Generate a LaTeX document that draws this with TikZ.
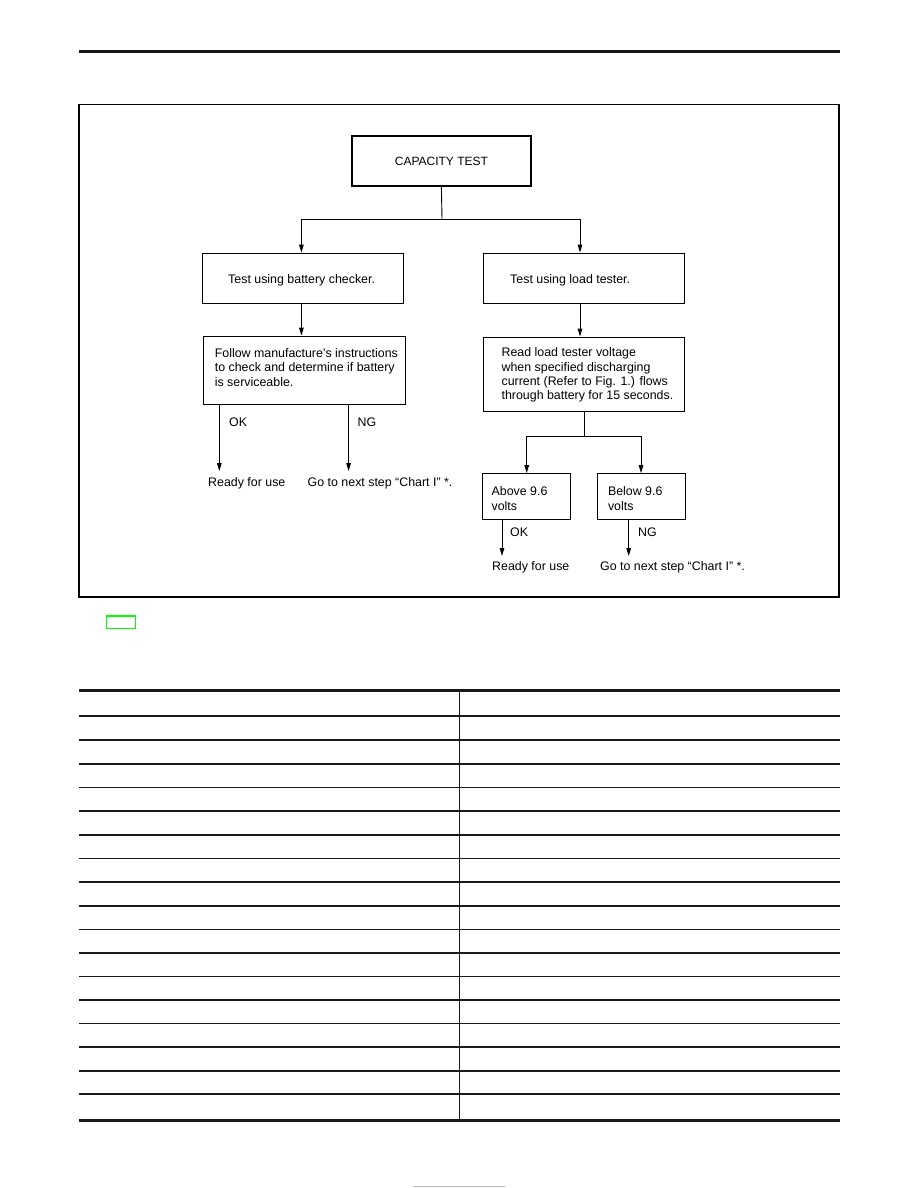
\documentclass[tikz,border=0pt]{standalone}
\usepackage{fontspec}
\setmainfont{Liberation Sans}
\usetikzlibrary{arrows.meta,calc}
\definecolor{pagegreen}{HTML}{00FF00}
\definecolor{footgray}{HTML}{BBBBBB}
\tikzset{
  boxstyle/.style={draw=black, line width=0.9pt, inner sep=0pt},
  txt/.style={inner sep=0pt, anchor=base west, font={\fontsize{12.4}{14.3}\selectfont}, align=left},
  arr/.style={draw=black, line width=0.9pt, -{Triangle[length=8pt,width=4.6pt]}},
  ln/.style={draw=black, line width=0.9pt},
  thinrule/.style={draw=black!90, line width=1.3pt},
  thickrule/.style={draw=black!90, line width=3pt},
}
\begin{document}
\begin{tikzpicture}[x=1pt,y=-1pt]
\useasboundingbox (0,0) rectangle (918,1188);
% header rule
\draw[thickrule, line width=3.5pt] (79,51.3) -- (840,51.3);
% frame
\draw[black, line width=1.2pt] (79,104.5) rectangle (839,597);
% boxes
\node[boxstyle, line width=2pt, minimum width=179pt, minimum height=50pt,
      font={\fontsize{12}{14.3}\selectfont}] (cap) at (441.4,161) {CAPACITY TEST};
\node[boxstyle, minimum width=201.6pt, minimum height=50pt] (b1) at (302.8,278) {};
\node[boxstyle, minimum width=201.6pt, minimum height=50pt] (b2) at (583.8,278) {};
\node[boxstyle, minimum width=201.5pt, minimum height=68pt] (b3) at (304.25,370) {};
\node[boxstyle, minimum width=201pt, minimum height=74pt] (b4) at (583.5,374) {};
\node[boxstyle, minimum width=88pt, minimum height=45.5pt] (b5) at (526.7,496.25) {};
\node[boxstyle, minimum width=88pt, minimum height=45.5pt] (b6) at (641,496.25) {};
% texts (multi-line nodes: base anchor is the last line's baseline)
\node[txt] (t1) at (228,283) {Test using battery checker.};
\node[txt] (t2) at (510,283) {Test using load tester.};
\node[txt] (t3) at (214.6,386.1) {Follow manufacture's instructions\\to check and determine if battery\\is serviceable.};
\node[txt] (t4) at (501.4,399.6) {Read load tester voltage\\when specified discharging\\current (Refer to Fig. 1.) flows\\through battery for 15 seconds.};
\node[txt] (t5) at (491.4,510.2) {Above 9.6\\volts};
\node[txt] (t6) at (607.8,510.2) {Below 9.6\\volts};
\node[txt] (okl) at (229,426) {OK};
\node[txt] (ngl) at (357.5,426) {NG};
\node[txt] (rdl) at (208,486) {Ready for use};
\node[txt] (gol) at (307.5,486) {Go to next step “Chart I” *.};
\node[txt] (okr) at (510,536) {OK};
\node[txt] (ngr) at (638,536) {NG};
\node[txt] (rdr) at (492,570) {Ready for use};
\node[txt] (gor) at (600,570) {Go to next step “Chart I” *.};
% connectors
\coordinate (j1) at (442,219);
\draw[ln] (cap.south) -- (j1);
\draw[arr] (j1) -| ([xshift=-1.4pt]b1.north);
\draw[arr] (j1) -| ([xshift=-3.8pt]b2.north);
\draw[arr] ([xshift=-1.4pt]b1.south) -- ([xshift=-1.4pt]b1.south |- b3.north);
\draw[arr] ([xshift=-3.8pt]b2.south) -- ([xshift=-3.8pt]b2.south |- b4.north);
\coordinate (e1) at (219.3,471);
\coordinate (e2) at (348.6,471);
\draw[arr] (e1 |- b3.south) -- (e1);
\draw[arr] (e2 |- b3.south) -- (e2);
\coordinate (j2) at (584,436);
\draw[ln] (j2 |- b4.south) -- (j2);
\draw[arr] (j2) -| (b5.north);
\draw[arr] (j2) -| (b6.north);
\coordinate (e3) at (502,556);
\coordinate (e4) at (628.7,556);
\draw[arr] (e3 |- b5.south) -- (e3);
\draw[arr] (e4 |- b6.south) -- (e4);
% green marker
\draw[pagegreen, line width=1.5pt] (106.3,616) rectangle (135.7,628.5);
% table
\draw[thickrule] (79,690.5) -- (840,690.5);
\foreach \yy in {716,740,764,787.5,811,835,858.5,882,906,929.5,953,976.5,1000,1023.5,1047,1071,1094}{
  \draw[thinrule] (79,\yy) -- (840,\yy);
}
\draw[thickrule] (79,1120) -- (840,1120);
\draw[thinrule] (459.3,690.5) -- (459.3,1120);
% footer gray line
\draw[footgray, line width=1.2pt] (413,1186.5) -- (505,1186.5);
\end{tikzpicture}
\end{document}
